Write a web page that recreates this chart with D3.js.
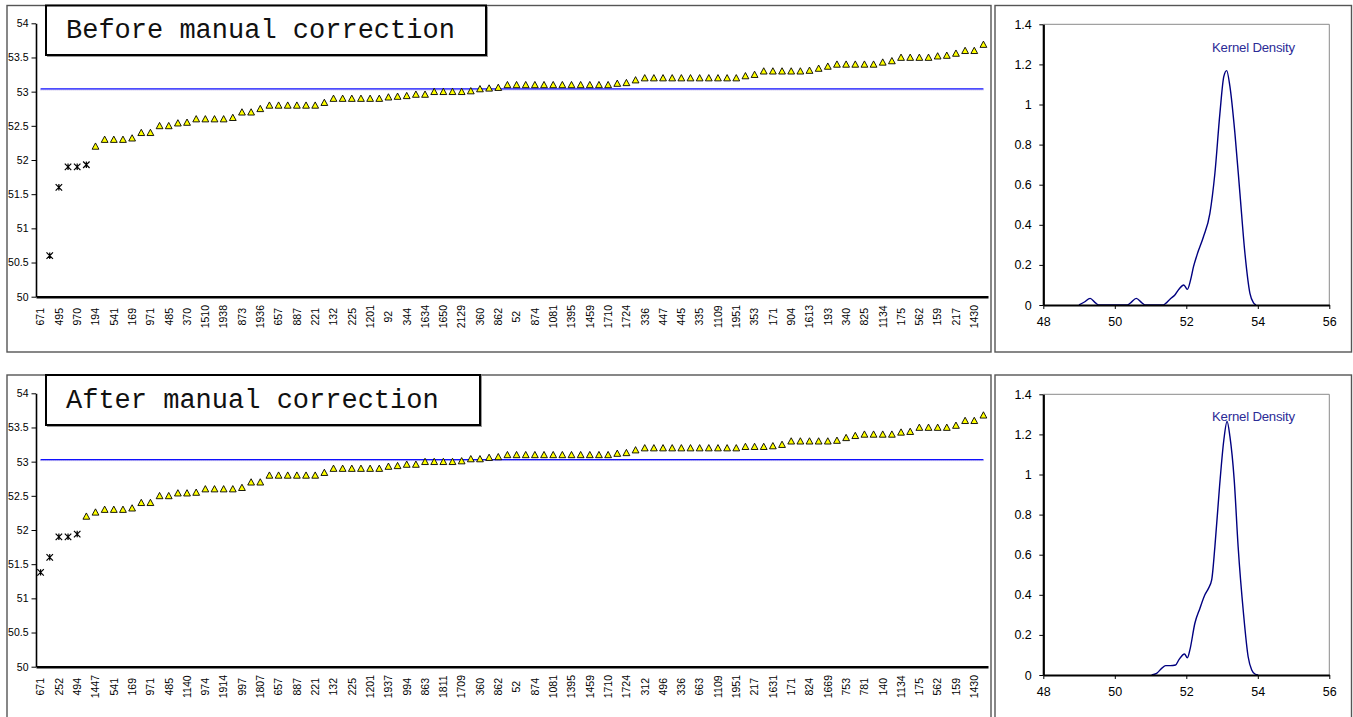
<!DOCTYPE html>
<html>
<head>
<meta charset="utf-8">
<script src="https://cdn.jsdelivr.net/npm/d3@7"></script>
<style>
  html, body { margin: 0; padding: 0; background: #fff; }
  svg { display: block; }
</style>
</head>
<body>
<svg id="chart" width="1353" height="717"></svg>
<script>
// ---- Proficiency results, sorted ascending (one value per laboratory) ----

// Lab codes printed under every other sample position (1, 3, 5, ...)
const beforeLabs = ["671","495","970","194","541","169","971","485","370","1510","1938","873","1936",
  "657","887","221","132","225","1201","92","344","1634","1650","2129","360","862","52","874","1081",
  "1395","1459","1710","1724","336","447","445","335","1109","1951","353","171","904","1613","193",
  "340","825","1134","175","562","159","217","1430"];
const afterLabs = ["671","252","494","1447","541","169","971","485","1140","974","1914","997","1807",
  "657","887","221","132","225","1201","1937","994","863","1811","1709","360","862","52","874","1081",
  "1395","1459","1710","1724","312","496","336","663","1109","1951","217","1631","171","824","1669",
  "753","781","140","1134","175","562","159","1430"];

const beforeValues = [
  49.3, 50.6, 51.6, 51.9, 51.9, 51.93, 52.2, 52.3, 52.3, 52.3,
  52.32, 52.4, 52.4, 52.5, 52.5, 52.54, 52.55, 52.6, 52.6, 52.6,
  52.6, 52.62, 52.7, 52.7, 52.75, 52.8, 52.8, 52.8, 52.8, 52.8,
  52.8, 52.84, 52.9, 52.9, 52.9, 52.9, 52.9, 52.9, 52.92, 52.93,
  52.94, 52.96, 52.96, 53.0, 53.0, 53.0, 53.0, 53.01, 53.04, 53.05,
  53.06, 53.1, 53.1, 53.1, 53.1, 53.1, 53.1, 53.1, 53.1, 53.1,
  53.1, 53.1, 53.1, 53.12, 53.13, 53.17, 53.2, 53.2, 53.2, 53.2,
  53.2, 53.2, 53.2, 53.2, 53.2, 53.2, 53.2, 53.23, 53.25, 53.3,
  53.3, 53.3, 53.3, 53.3, 53.31, 53.34, 53.37, 53.4, 53.4, 53.4,
  53.4, 53.4, 53.43, 53.45, 53.5, 53.5, 53.5, 53.5, 53.52, 53.53,
  53.56, 53.6, 53.6, 53.69
];
const afterValues = [
  51.38, 51.6, 51.9, 51.9, 51.94, 52.2, 52.26, 52.3, 52.3, 52.3,
  52.32, 52.4, 52.4, 52.5, 52.5, 52.54, 52.54, 52.55, 52.6, 52.6,
  52.6, 52.6, 52.62, 52.7, 52.7, 52.8, 52.8, 52.8, 52.8, 52.8,
  52.8, 52.84, 52.9, 52.9, 52.9, 52.9, 52.9, 52.9, 52.93, 52.94,
  52.96, 52.96, 53.0, 53.0, 53.0, 53.0, 53.01, 53.04, 53.04, 53.06,
  53.07, 53.1, 53.1, 53.1, 53.1, 53.1, 53.1, 53.1, 53.1, 53.1,
  53.1, 53.1, 53.1, 53.12, 53.13, 53.17, 53.2, 53.2, 53.2, 53.2,
  53.2, 53.2, 53.2, 53.2, 53.2, 53.2, 53.2, 53.22, 53.22, 53.22,
  53.23, 53.25, 53.3, 53.3, 53.3, 53.3, 53.3, 53.31, 53.35, 53.38,
  53.4, 53.4, 53.4, 53.4, 53.43, 53.44, 53.5, 53.5, 53.5, 53.5,
  53.53, 53.6, 53.6, 53.68
];

// Number of leading results flagged as outliers (drawn with a star marker)
const beforeFlagged = 6;
const afterFlagged = 5;

// Assigned (consensus) value drawn as a horizontal line
const beforeReference = 53.04;
const afterReference = 53.03;

const valueTicks = [50, 50.5, 51, 51.5, 52, 52.5, 53, 53.5, 54];

// ---- Kernel density estimates of the same results ----
const beforeDensityX = [49.0, 49.15, 49.31, 49.45, 49.55, 50.35, 50.45, 50.6, 50.75, 50.85,
  51.35, 51.45, 51.55, 51.68, 51.8, 51.93, 52.03, 52.12, 52.2, 52.3, 52.48, 52.66, 52.8,
  52.94, 53.05, 53.13, 53.22, 53.36, 53.5, 53.64, 53.78, 53.88, 53.95];
const beforeDensityY = [0, 0.015, 0.033, 0.012, 0, 0, 0.012, 0.033, 0.012, 0,
  0, 0.012, 0.03, 0.05, 0.08, 0.1, 0.078, 0.125, 0.19, 0.25, 0.34, 0.457, 0.657,
  0.956, 1.14, 1.169, 1.09, 0.856, 0.557, 0.258, 0.058, 0.01, 0];
const afterDensityX = [51.03, 51.17, 51.31, 51.42, 51.55, 51.7, 51.8, 51.95, 52.03, 52.1,
  52.24, 52.38, 52.52, 52.62, 52.71, 52.8, 52.93, 53.05, 53.14, 53.22, 53.34, 53.45,
  53.6, 53.73, 53.83, 53.92, 54.01];
const afterDensityY = [0, 0.008, 0.033, 0.047, 0.047, 0.05, 0.078, 0.105, 0.086, 0.125,
  0.258, 0.332, 0.4, 0.432, 0.474, 0.64, 0.94, 1.172, 1.265, 1.19, 0.973, 0.64,
  0.307, 0.091, 0.025, 0.005, 0];

const densityXTicks = [48, 50, 52, 54, 56];
const densityYTicks = [0, 0.2, 0.4, 0.6, 0.8, 1, 1.2, 1.4];

// ---------------------------------------------------------------------------
const svg = d3.select("#chart");
const fmt = d3.format("~g");
const SANS = "'Liberation Sans', Arial, sans-serif";
const MONO = "'Liberation Mono', 'Courier New', monospace";

// Marker shapes: filled triangle for accepted results, star for outliers
const triangleMarker = {
  draw(ctx, size) {
    const r = Math.sqrt(size) / 2;
    ctx.moveTo(0, -r);
    ctx.lineTo(r, r * 0.85);
    ctx.lineTo(-r, r * 0.85);
    ctx.closePath();
  }
};
const starMarker = {
  draw(ctx, size) {
    const r = Math.sqrt(size) / 2;
    ctx.moveTo(-r, -r); ctx.lineTo(r, r);
    ctx.moveTo(-r, r); ctx.lineTo(r, -r);
    ctx.moveTo(0, -r); ctx.lineTo(0, r);
  }
};

function panelFrame(x, y, w, h) {
  svg.append("rect")
    .attr("x", x).attr("y", y).attr("width", w).attr("height", h)
    .attr("fill", "#fff").attr("stroke", "#555").attr("stroke-width", 1.4);
}

function sortedPanel(cfg) {
  const g = svg.append("g");
  const cats = d3.range(1, cfg.values.length + 1);
  const x = d3.scaleBand().domain(cats).range([36, 988]);
  const cx = i => x(i) + x.bandwidth() / 2;
  const y = d3.scaleLinear().domain([50, 54]).range([cfg.yBottom, cfg.yTop]);

  // reference line
  g.append("line")
    .attr("x1", cx(1)).attr("x2", cx(cats.length))
    .attr("y1", y(cfg.reference) + 1).attr("y2", y(cfg.reference) + 1)
    .attr("stroke", "#9a8ad8").attr("stroke-width", 1).attr("stroke-dasharray", "1,1");
  g.append("line")
    .attr("x1", cx(1)).attr("x2", cx(cats.length))
    .attr("y1", y(cfg.reference)).attr("y2", y(cfg.reference))
    .attr("stroke", "#1010ff").attr("stroke-width", 1.1);

  // y axis
  const ya = g.append("g").attr("transform", "translate(36,0)")
    .call(d3.axisLeft(y).tickValues(valueTicks).tickFormat(fmt).tickSize(4.5).tickPadding(3).tickSizeOuter(0));
  ya.select(".domain").attr("stroke", "#000").attr("stroke-width", 1.6);
  ya.selectAll(".tick line").attr("stroke", "#000");
  ya.selectAll("text").attr("font-size", 10.5).attr("fill", "#000").style("font-family", SANS);

  // x axis with lab codes at every other position
  const shown = cats.filter(i => i % 2 === 1);
  const xa = g.append("g").attr("transform", `translate(0,${cfg.yBottom})`)
    .call(d3.axisBottom(x).tickValues(shown).tickFormat(i => cfg.labs[(i - 1) / 2]).tickSize(0).tickSizeOuter(0));
  xa.select(".domain").attr("stroke", "#000").attr("stroke-width", 2.4);
  xa.selectAll("text")
    .attr("font-size", 10.5).attr("fill", "#000")
    .style("font-family", SANS)
    .attr("text-anchor", "middle")
    .attr("x", 0).attr("y", 0).attr("dy", "0.36em")
    .attr("transform", "translate(0,20) rotate(-90)");

  // results (values below the axis minimum are not plotted)
  const pts = cats.map(i => ({ i, v: cfg.values[i - 1], flagged: i <= cfg.flagged }))
    .filter(d => d.v >= 50 && d.v <= 54);
  g.selectAll("path.res").data(pts).join("path")
    .attr("class", "res")
    .attr("transform", d => `translate(${cx(d.i)},${y(d.v)})`)
    .attr("d", d => d3.symbol(d.flagged ? starMarker : triangleMarker, d.flagged ? 42 : 46)())
    .attr("fill", d => d.flagged ? "none" : "#ffff00")
    .attr("stroke", "#000")
    .attr("stroke-width", d => d.flagged ? 1.2 : 0.9);

  // title box
  const b = cfg.box;
  g.append("rect").attr("x", b[0] + 1.5).attr("y", b[1] + 1.5).attr("width", b[2]).attr("height", b[3])
    .attr("fill", "none").attr("stroke", "#999").attr("stroke-width", 1);
  g.append("rect").attr("x", b[0]).attr("y", b[1]).attr("width", b[2]).attr("height", b[3])
    .attr("fill", "#fff").attr("stroke", "#000").attr("stroke-width", 2);
  g.append("text").attr("x", b[0] + 20).attr("y", b[1] + 32.5)
    .style("font-family", MONO)
    .attr("font-size", 27).attr("fill", "#111")
    .text(cfg.title);
}

function densityPanel(cfg) {
  const g = svg.append("g");
  const x = d3.scaleLinear().domain([48, 56]).range([1043.3, 1329.3]);
  const y = d3.scaleLinear().domain([0, 1.4]).range([cfg.yBottom, cfg.yTop]);

  // plot area border (top and right)
  g.append("path")
    .attr("d", `M${x(48)},${y(1.4)}H${x(56)}V${y(0)}`)
    .attr("fill", "none").attr("stroke", "#8a8a8a").attr("stroke-width", 1);

  const pts = cfg.xs.map((v, k) => [v, cfg.ys[k]]);
  g.append("path")
    .attr("d", d3.line().x(d => x(d[0])).y(d => y(d[1])).curve(d3.curveMonotoneX)(pts))
    .attr("fill", "none").attr("stroke", "#000080").attr("stroke-width", 1.4);

  const xa = g.append("g").attr("transform", `translate(0,${cfg.yBottom})`)
    .call(d3.axisBottom(x).tickValues(densityXTicks).tickFormat(fmt).tickSize(4).tickPadding(8).tickSizeOuter(0));
  const ya = g.append("g").attr("transform", `translate(${x(48)},0)`)
    .call(d3.axisLeft(y).tickValues(densityYTicks).tickFormat(fmt).tickSize(4).tickPadding(7.5).tickSizeOuter(0));
  [xa, ya].forEach(a => {
    a.select(".domain").attr("stroke", "#000").attr("stroke-width", 2.2);
    a.selectAll(".tick line").attr("stroke", "#000");
    a.selectAll("text").attr("font-size", 12.5).attr("fill", "#000").style("font-family", SANS);
  });

  g.append("text").attr("x", 1212).attr("y", cfg.labelY)
    .attr("font-size", 13.2).attr("fill", "#2b2b96")
    .style("font-family", SANS)
    .attr("letter-spacing", -0.2)
    .text("Kernel Density");
}

// frames
panelFrame(7, 5.5, 984, 346.5);
panelFrame(995, 5.5, 356.5, 346.5);
panelFrame(7, 375, 984, 400);
panelFrame(995, 375, 356.5, 400);

sortedPanel({
  values: beforeValues, labs: beforeLabs, flagged: beforeFlagged, reference: beforeReference,
  yTop: 23.3, yBottom: 296.7, title: "Before manual correction", box: [46, 5.5, 440, 49.5]
});
sortedPanel({
  values: afterValues, labs: afterLabs, flagged: afterFlagged, reference: afterReference,
  yTop: 393.3, yBottom: 666.7, title: "After manual correction", box: [46, 375, 434, 50]
});

densityPanel({ xs: beforeDensityX, ys: beforeDensityY, yTop: 24.3, yBottom: 305, labelY: 51.5 });
densityPanel({ xs: afterDensityX, ys: afterDensityY, yTop: 394.3, yBottom: 675, labelY: 421 });
</script>
</body>
</html>
